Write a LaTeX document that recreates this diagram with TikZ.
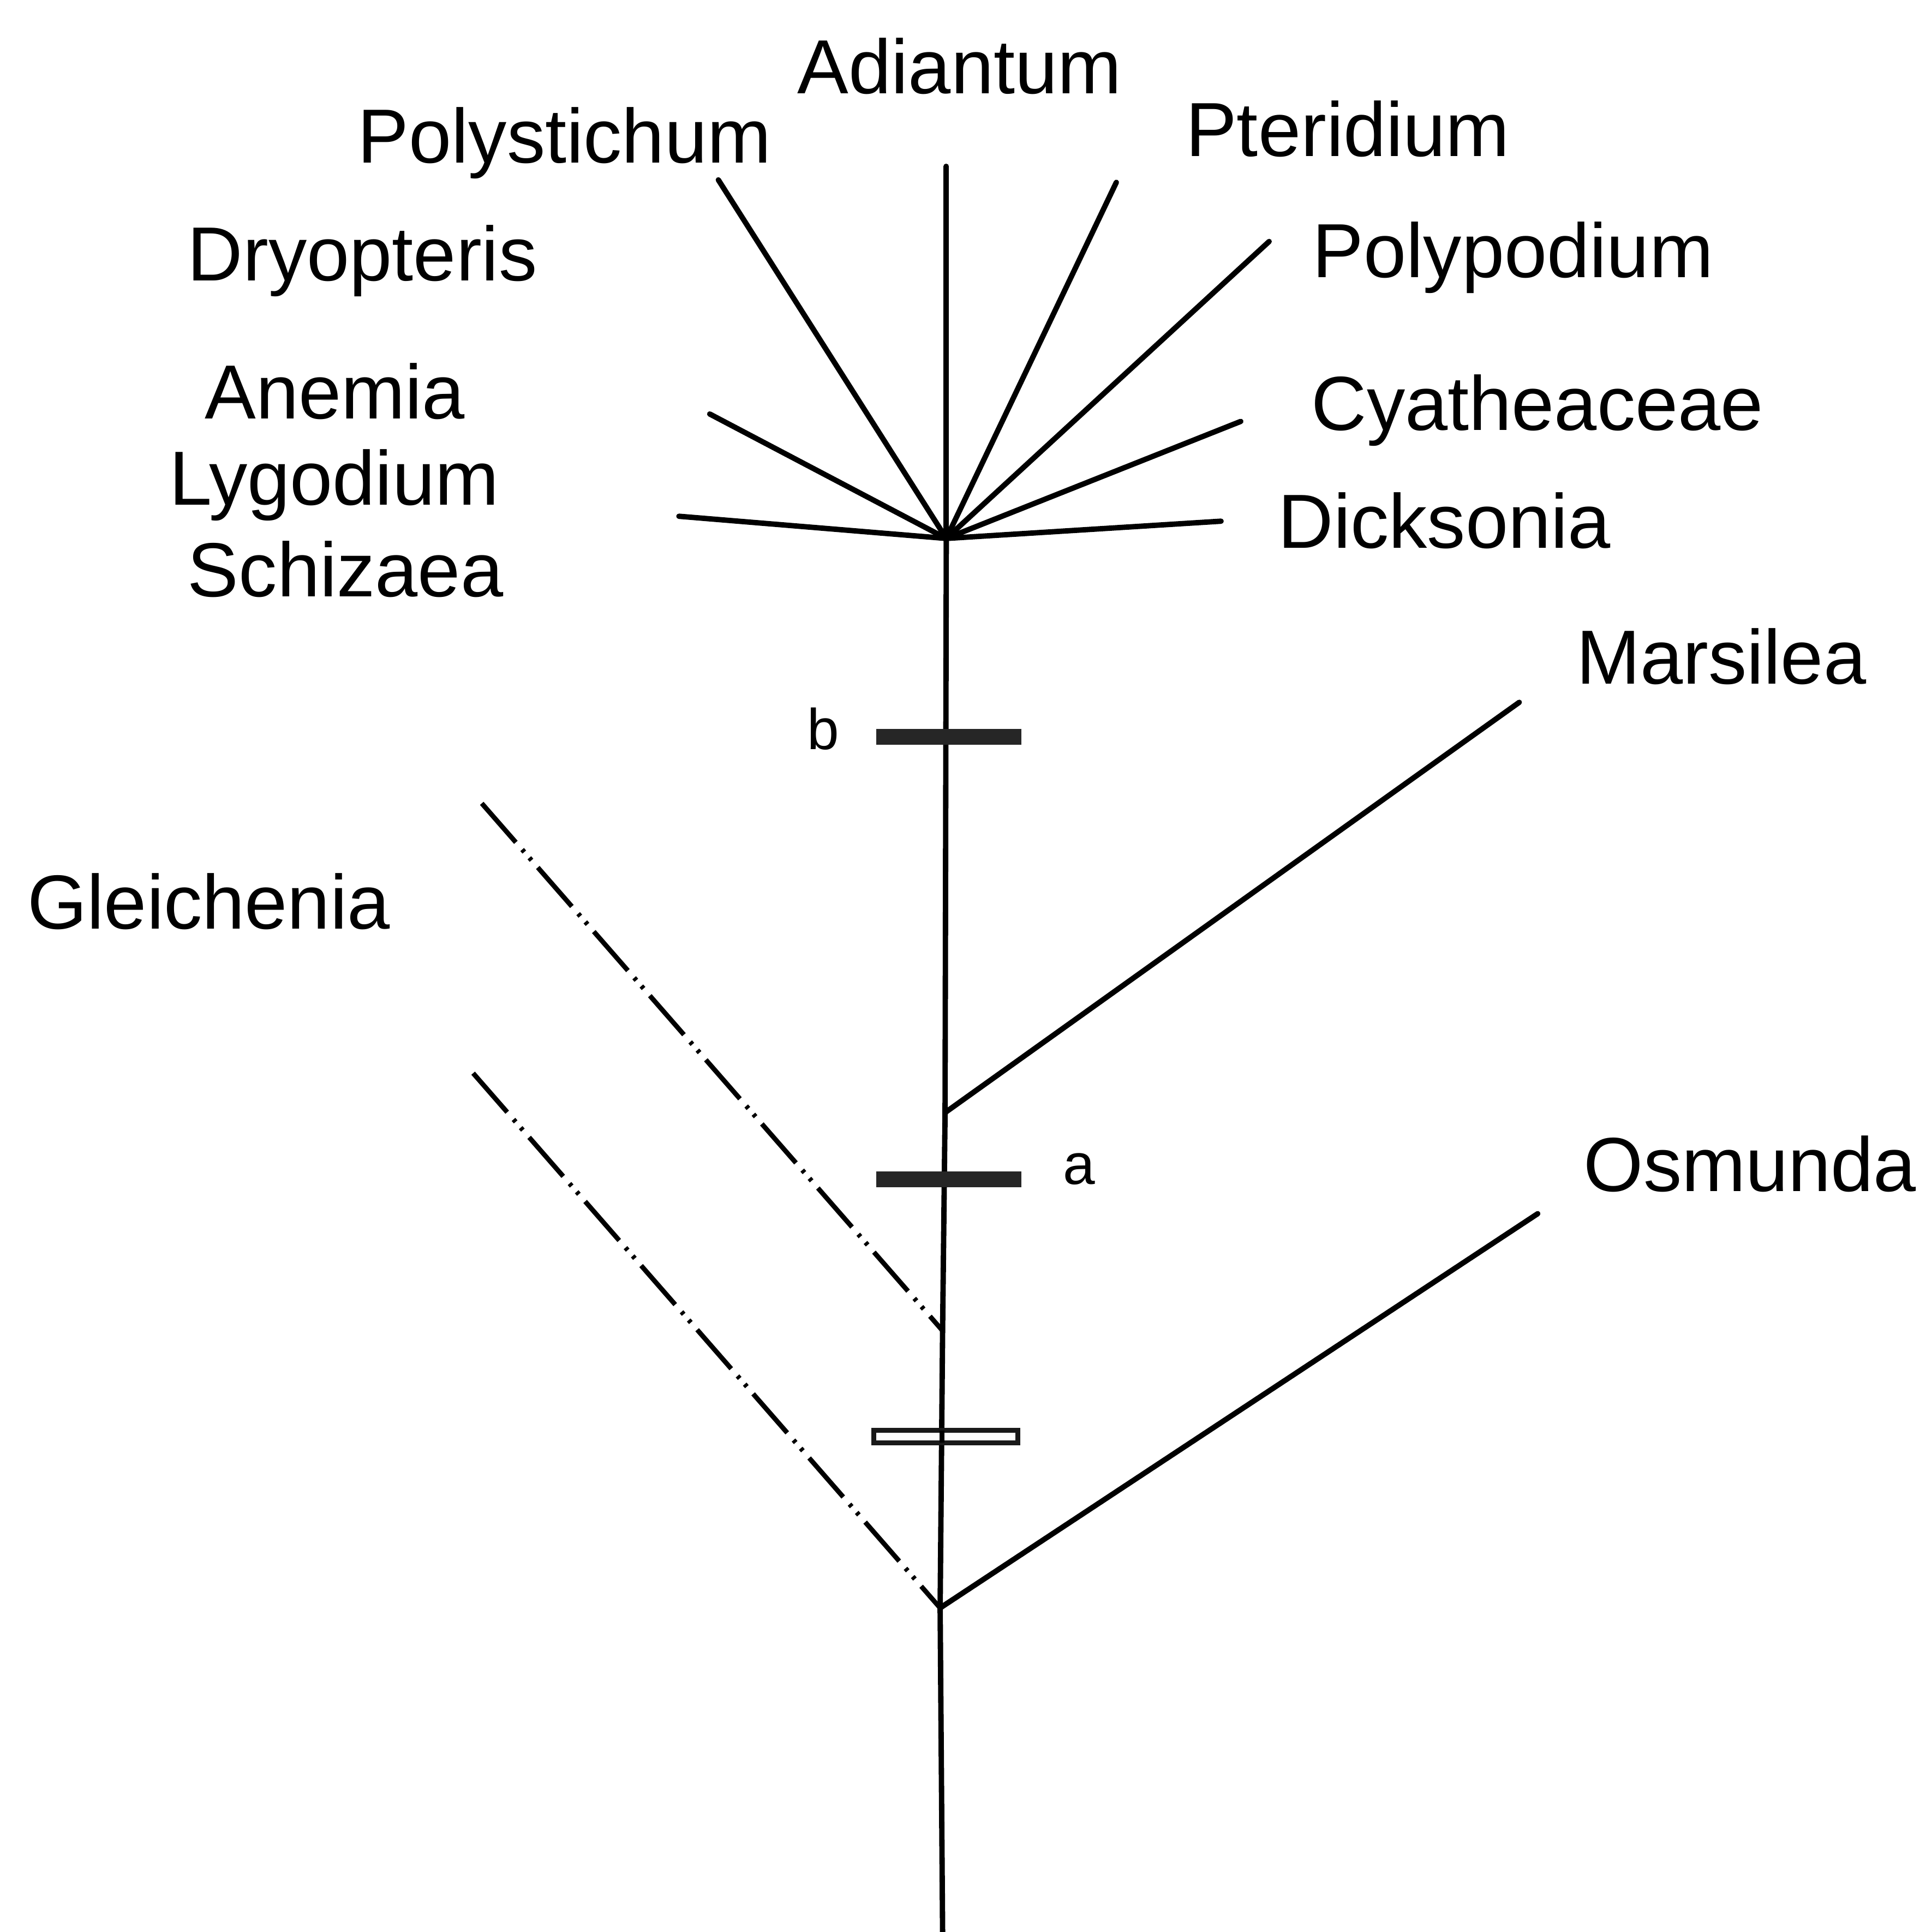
\documentclass[tikz,border=0pt]{standalone}
\usepackage{fontspec}
\setmainfont{Liberation Sans}
\begin{document}
\begin{tikzpicture}[x=0.022583cm,y=-0.022583cm,
  branch/.style={line width=2.8pt,line cap=round},
  dashbranch/.style={line width=2.5pt,dash pattern=on 27pt off 5pt on 1.7pt off 4pt on 1.7pt off 5pt},
  taxon/.style={font=\fontsize{40}{48}\selectfont,inner sep=0pt,anchor=base west},
  marklabel/.style={font=\fontsize{30}{36}\selectfont,inner sep=0pt,anchor=base},
  fullbar/.style={fill=black!85,draw=none},
  openbar/.style={fill=white,draw=black!90,line width=2.6pt}]
\useasboundingbox (0,0) rectangle (1568,1567.6);
% coordinates
\coordinate (fan) at (768,437);
\coordinate (root) at (765,1568);
\coordinate (jMar) at (767,903);
\coordinate (jG1) at (765,1080);
\coordinate (jOs) at (763,1305);
\coordinate (eAdi) at (768,135);
\coordinate (ePol) at (583,146);
\coordinate (ePte) at (906,148);
\coordinate (ePpd) at (1030,196);
\coordinate (eCya) at (1007,342);
\coordinate (eDic) at (991,423);
\coordinate (eAne) at (576,336);
\coordinate (eLyg) at (551,419);
\coordinate (eMar) at (1233,570);
\coordinate (eOsm) at (1248,985);
\coordinate (eG1) at (391,652);
\coordinate (eG2) at (384,871);
% labels
\node[taxon] (Adiantum) at (647,76) {Adiantum};
\node[taxon] (Polystichum) at (290,132) {Polystichum};
\node[taxon] (Pteridium) at (962,127) {Pteridium};
\node[taxon] (Dryopteris) at (152,228) {Dryopteris};
\node[taxon] (Polypodium) at (1065,225) {Polypodium};
\node[taxon] (Anemia) at (166,340) {Anemia};
\node[taxon] (Lygodium) at (137,410) {Lygodium};
\node[taxon] (Schizaea) at (152,484) {Schizaea};
\node[taxon] (Cyatheaceae) at (1064,349) {Cyatheaceae};
\node[taxon] (Dicksonia) at (1037,445) {Dicksonia};
\node[taxon] (Marsilea) at (1279,555) {Marsilea};
\node[taxon] (Gleichenia) at (22,754) {Gleichenia};
\node[taxon] (Osmunda) at (1285,967) {Osmunda};
\node[marklabel] (lb) at (668,608) {b};
\node[marklabel] (la) at (876,961) {a};
% trunk and fan
\draw[branch] (fan) -- (jMar) -- (jG1) -- (jOs) -- (root);
\foreach \e in {eAdi,ePol,ePte,ePpd,eCya,eDic,eAne,eLyg}
  \draw[branch] (fan) -- (\e);
\draw[branch] (jMar) -- (eMar);
\draw[branch] (jOs) -- (eOsm);
\draw[dashbranch] (eG1) -- (jG1);
\draw[dashbranch] (eG2) -- (jOs);
% character bars
\fill[fullbar] (711,591.5) rectangle (829,604.5);
\fill[fullbar] (711,950.5) rectangle (829,963.5);
\draw[openbar] (709,1161) rectangle (826,1171);
\draw[line width=2.8pt] (764.5,1161) -- (764.5,1171);
\end{tikzpicture}
\end{document}
